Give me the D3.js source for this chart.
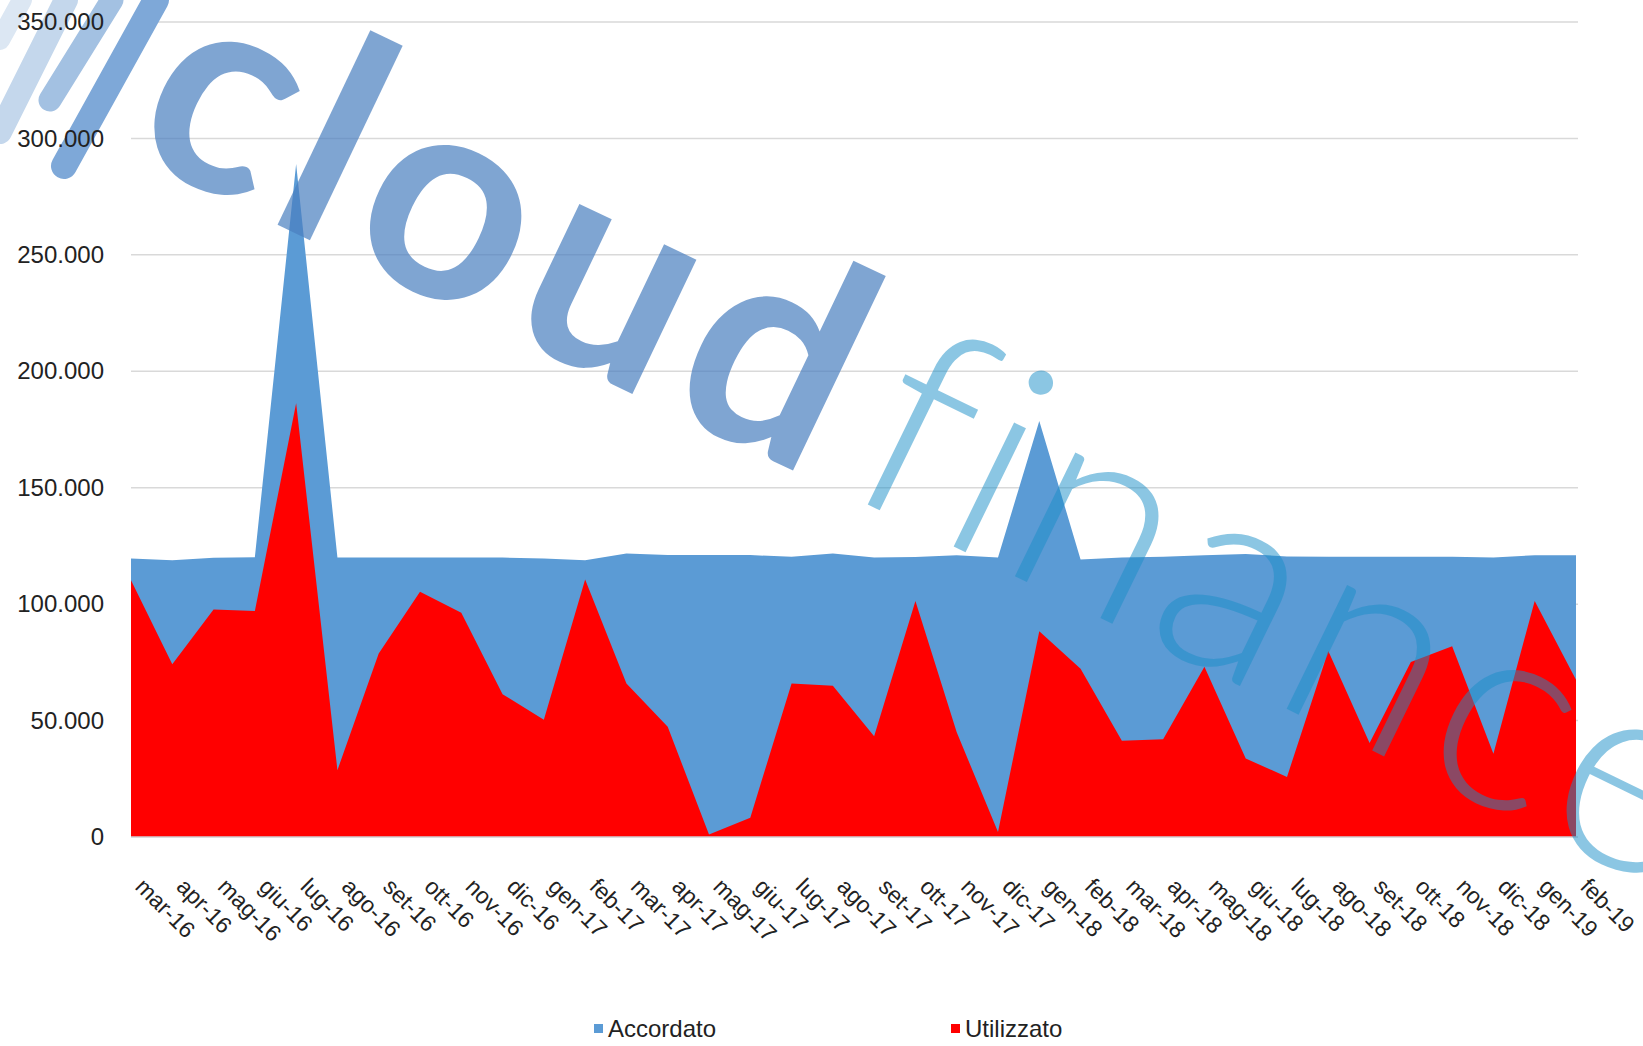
<!DOCTYPE html>
<html>
<head>
<meta charset="utf-8">
<script src="https://cdn.jsdelivr.net/npm/d3@7"></script>
<style>
  html, body { margin: 0; padding: 0; background: #fff; }
  svg { display: block; }
  .wm text { font-variant-ligatures: none; font-feature-settings: "liga" 0; }
</style>
</head>
<body>
<div id="chart"></div>
<script>
// monthly series, values in euro
const months = ["mar-16","apr-16","mag-16","giu-16","lug-16","ago-16","set-16","ott-16","nov-16","dic-16",
  "gen-17","feb-17","mar-17","apr-17","mag-17","giu-17","lug-17","ago-17","set-17","ott-17","nov-17","dic-17",
  "gen-18","feb-18","mar-18","apr-18","mag-18","giu-18","lug-18","ago-18","set-18","ott-18","nov-18","dic-18",
  "gen-19","feb-19"];
const accordato = [119600,118900,119900,120100,289000,120000,120000,120000,120000,120000,
  119600,118900,121800,121100,121100,121100,120300,121800,120000,120200,121000,120000,
  178700,119200,120000,120300,121000,121500,120500,120300,120300,120300,120300,120000,
  121000,121000];
const utilizzato = [110300,74200,97700,97100,186300,28700,78800,105300,96300,61300,
  50400,110600,65900,47300,1100,8300,65900,65000,43300,101400,45000,2100,
  88400,72300,41300,42000,73100,33700,25800,79900,40400,75200,81900,35800,
  101400,67500];
const yTicks = [0,50000,100000,150000,200000,250000,300000,350000];

const W = 1643, H = 1046;
const plotLeft = 131, plotRight = 1576, plotTop = 22, plotBottom = 837;
const font = "Liberation Sans, Arial, sans-serif";

const svg = d3.select("#chart").append("svg")
  .attr("width", W).attr("height", H);

const x = d3.scalePoint().domain(months).range([plotLeft, plotRight]);
const y = d3.scaleLinear().domain([0, 350000]).range([plotBottom, plotTop]);

const it = d3.formatLocale({decimal: ",", thousands: ".", grouping: [3], currency: ["€", ""]});
const fmt = it.format(",d");

// grid
svg.append("g").selectAll("line")
  .data(yTicks.slice(1))
  .join("line")
  .attr("x1", plotLeft).attr("x2", plotRight + 2)
  .attr("y1", d => y(d)).attr("y2", d => y(d))
  .attr("stroke", "#d9d9d9").attr("stroke-width", 1.5);

// areas (overlapping, not stacked)
const area = d3.area().x((d, i) => x(months[i])).y0(y(0)).y1(d => y(d));
svg.append("path").datum(accordato)
  .attr("d", area).attr("fill", "#5b9bd5");
svg.append("path").datum(utilizzato)
  .attr("d", area).attr("fill", "#ff0000");

// baseline
svg.append("line")
  .attr("x1", plotLeft).attr("x2", plotRight + 2)
  .attr("y1", y(0)).attr("y2", y(0))
  .attr("stroke", "#d0cfd3").attr("stroke-width", 1.5);

// watermark
const wm = svg.append("g").attr("class", "wm").attr("pointer-events", "none");
[[0, 40, 22, 0, "#dce7f3", 20], [0, 132, 66, 0, "#c4d7ec", 24],
 [50, 100, 112, 0, "#a3c1e2", 23], [64, 166, 156, 0, "#7ea8d8", 26]].forEach(s => {
  wm.append("line")
    .attr("x1", s[0]).attr("y1", s[1]).attr("x2", s[2]).attr("y2", s[3])
    .attr("stroke", s[4]).attr("stroke-width", s[5])
    .attr("stroke-linecap", "round");
});
wm.append("text")
  .attr("transform", "translate(123,151) rotate(25.5)")
  .attr("font-family", "Lato, Noto Sans, sans-serif")
  .attr("font-weight", 700).attr("font-size", 290)
  .attr("textLength", 760).attr("lengthAdjust", "spacing")
  .attr("fill", "#4a7fc0").attr("opacity", 0.7)
  .text("cloud");
wm.append("text")
  .attr("transform", "translate(840,491) rotate(26)")
  .attr("font-family", "Lato, Noto Sans, sans-serif")
  .attr("font-weight", 300).attr("font-size", 277)
  .attr("textLength", 915).attr("lengthAdjust", "spacing")
  .attr("fill", "#1a8fc8").attr("opacity", 0.5)
  .text("finance");

// y axis labels (on top of the watermark)
const yAxis = svg.append("g")
  .attr("transform", `translate(${plotLeft - 27},0)`)
  .call(d3.axisLeft(y).tickValues(yTicks).tickFormat(fmt).tickSize(0).tickPadding(0));
yAxis.select(".domain").remove();
yAxis.selectAll("text")
  .attr("font-family", font)
  .attr("font-size", 24).attr("fill", "#222");

// x labels
svg.append("g").selectAll("text")
  .data(months)
  .join("text")
  .attr("transform", d => `translate(${x(d) + 3},${plotBottom + 51}) rotate(45)`)
  .attr("font-family", font)
  .attr("font-size", 23).attr("fill", "#222")
  .text(d => d);

// legend
const legend = [
  {name: "Accordato", color: "#5b9bd5", x: 594},
  {name: "Utilizzato", color: "#ff0000", x: 951}
];
const lg = svg.append("g").selectAll("g").data(legend).join("g")
  .attr("transform", d => `translate(${d.x},1028)`);
lg.append("rect").attr("x", 0).attr("y", -4).attr("width", 9).attr("height", 9)
  .attr("fill", d => d.color);
lg.append("text").attr("x", 14).attr("y", 9)
  .attr("font-family", font)
  .attr("font-size", 24).attr("fill", "#222")
  .text(d => d.name);
</script>
</body>
</html>
